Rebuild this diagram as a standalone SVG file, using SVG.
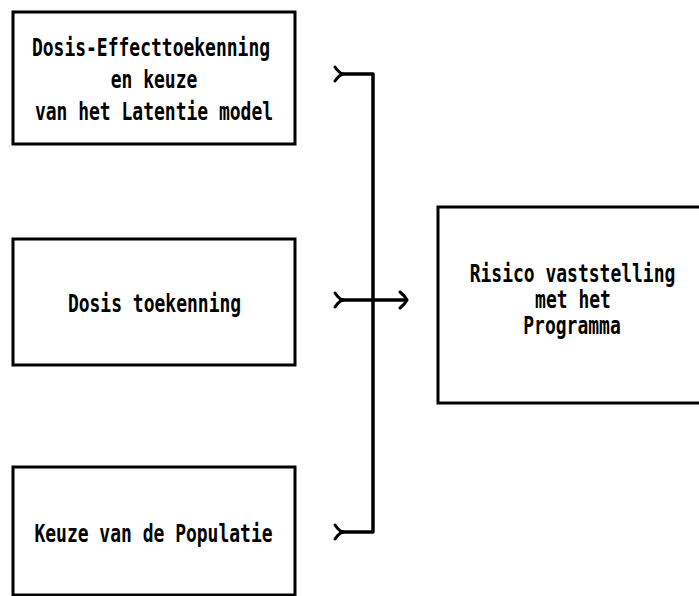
<svg xmlns="http://www.w3.org/2000/svg" width="699" height="596" viewBox="0 0 699 596">
<style>
.box{fill:#fff;stroke:#000;stroke-width:3}
.lbl{font-family:"DejaVu Sans Mono","Liberation Mono",monospace;font-weight:bold;font-size:18px;fill:#000;text-anchor:middle}
.con{fill:none;stroke:#000;stroke-width:3.5;stroke-linecap:round;stroke-linejoin:round}
.tail{fill:none;stroke:#000;stroke-width:3;stroke-linecap:round}
</style>
<rect width="699" height="596" fill="#fff"/>
<g id="n1">
<rect class="box" x="13" y="12" width="282" height="132"/>
<text class="lbl" transform="translate(151,56) scale(1,1.4)">Dosis-Effecttoekenning</text>
<text class="lbl" transform="translate(154,88) scale(1,1.4)">en keuze</text>
<text class="lbl" transform="translate(154,120) scale(1,1.4)">van het Latentie model</text>
</g>
<g id="n2">
<rect class="box" x="13" y="239" width="282" height="126"/>
<text class="lbl" transform="translate(154.5,312) scale(1,1.4)">Dosis toekenning</text>
</g>
<g id="n3">
<rect class="box" x="13" y="467" width="282" height="128"/>
<text class="lbl" transform="translate(153.5,542) scale(1,1.4)">Keuze van de Populatie</text>
</g>
<g id="n4">
<rect class="box" x="438" y="207" width="280" height="196"/>
<text class="lbl" transform="translate(572.5,282) scale(1,1.4)">Risico vaststelling</text>
<text class="lbl" transform="translate(573,308) scale(1,1.4)">met het</text>
<text class="lbl" transform="translate(572,334) scale(1,1.4)">Programma</text>
</g>
<g id="connectors">
<path class="con" d="M341,74 H373 V532 H341"/>
<path class="con" d="M341,300 H405"/>
<path class="tail" d="M335,67 Q339,73 343,74 M335,81 Q339,75 343,74"/>
<path class="tail" d="M335,293 Q339,299 343,300 M335,307 Q339,301 343,300"/>
<path class="tail" d="M335,525 Q339,531 343,532 M335,539 Q339,533 343,532"/>
<path class="tail" d="M400,292 Q405,296 407,300 Q405,304 400,308"/>
</g>
</svg>
